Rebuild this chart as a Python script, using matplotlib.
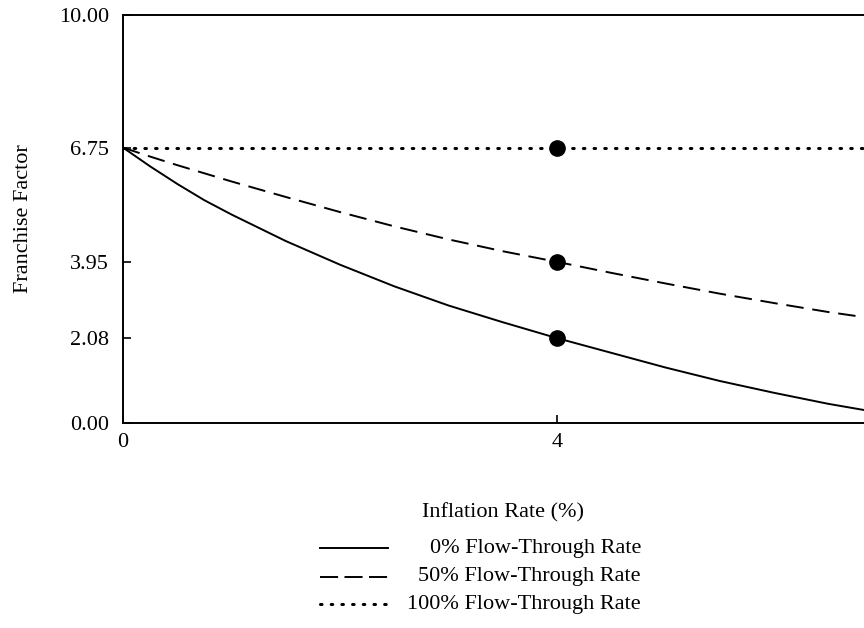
import matplotlib.pyplot as plt
from matplotlib.lines import Line2D

plt.rcParams['font.family'] = ['Liberation Serif', 'DejaVu Serif']

# values
inflation = [0, 0.25, 0.5, 0.75, 1, 1.5, 2, 2.5, 3, 3.5, 4, 4.5, 5, 5.5, 6, 6.5, 7]
ff_0 = [6.75, 6.29, 5.86, 5.46, 5.11, 4.46, 3.88, 3.35, 2.88, 2.47, 2.08, 1.72, 1.36, 1.03, 0.74, 0.47, 0.24]
ff_50 = [6.75, 6.53, 6.32, 6.12, 5.92, 5.54, 5.17, 4.82, 4.50, 4.21, 3.95, 3.68, 3.42, 3.17, 2.94, 2.72, 2.53]
ff_100 = [6.75] * len(inflation)

marker_x = [4, 4, 4]
marker_y = [6.75, 3.95, 2.08]

y_ticks = [0.00, 2.08, 3.95, 6.75, 10.00]
x_ticks = [0, 4]

legend_labels = ['0% Flow-Through Rate', '50% Flow-Through Rate', '100% Flow-Through Rate']

fig = plt.figure(figsize=(8.64, 6.28), dpi=100)
ax = fig.add_axes([123 / 864, 1 - 423 / 628, 759.5 / 864, 408 / 628])

ax.plot(inflation, ff_0, '-', color='black', lw=1.4)
ax.plot(inflation, ff_50, color='black', lw=1.4, dashes=(9, 4.5))
ax.plot(inflation, ff_100, color='black', lw=2.2, linestyle=(0, (0.5, 3.0)), dash_capstyle='round')
ax.plot(marker_x, marker_y, 'o', color='black', ms=11, zorder=5)

ax.set_xlim(0, 7)
ax.set_ylim(0, 10)
ax.set_yticks(y_ticks)
ax.set_yticklabels([f'{v:.2f}' for v in y_ticks])
ax.set_xticks(x_ticks)
ax.set_xticklabels([str(v) for v in x_ticks])
ax.tick_params(direction='in', length=6, width=1.2, labelsize=16, colors='black')
ax.tick_params(axis='y', pad=10)
ax.tick_params(axis='x', pad=7)
for s in ax.spines.values():
    s.set_linewidth(1.4)
ax.spines['right'].set_visible(False)

ax.set_xlabel('Inflation Rate (%)', fontsize=16, labelpad=37)
ax.set_ylabel('Franchise Factor', fontsize=16, labelpad=19)

# legend drawn by hand so the labels can be right-aligned
styles = [dict(ls='-', lw=1.4),
          dict(dashes=(9.3, 3.3), lw=1.4),
          dict(ls=(0, (0.5, 3.0)), lw=2.2, dash_capstyle='round')]
rows_y = [548, 577, 604]
for st, lab, yp in zip(styles, legend_labels, rows_y):
    yf = 1 - yp / 628
    fig.add_artist(Line2D([320 / 864, 388 / 864], [yf, yf], color='black', **st))
    fig.text(641 / 864, yf, lab, ha='right', va='center', fontsize=16)

fig.savefig('out.png', dpi=100)
